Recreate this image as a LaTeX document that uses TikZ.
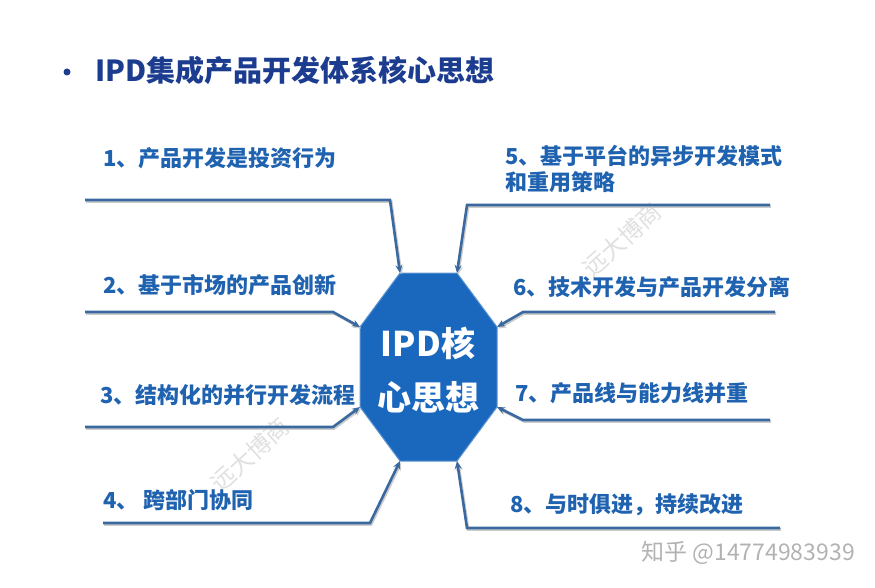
\documentclass[tikz,border=0pt]{standalone}
\usepackage{fontspec}
\setmainfont{Noto Sans CJK SC}
\usepackage{xcolor}
\usetikzlibrary{arrows.meta}

\definecolor{titleblue}{HTML}{1B3C8F}
\definecolor{itemblue}{HTML}{1F62B0}
\definecolor{coreblue}{HTML}{1A68BE}
\definecolor{linkblue}{HTML}{3A69A0}

\tikzset{
  item/.style={anchor=west, text=itemblue, font=\bfseries\fontsize{22}{26}\selectfont, inner sep=0pt},
  link/.style={draw=linkblue, line width=2.6pt, -{Stealth[length=8pt,width=7pt]},
    preaction={draw=black!20, line width=2.6pt, transform canvas={shift={(1.2pt,-1.5pt)}}}},
  mark wm/.style={text=black!12, font=\fontsize{24}{26}\selectfont, inner sep=0pt}
}

\begin{document}
\begin{tikzpicture}[x=1pt, y=-1pt]
    \useasboundingbox (0,0) rectangle (875,588);

    % Watermarks
    \node[mark wm, rotate=42] (wmtop) at (622,240) {远大博商};
    \node[mark wm, rotate=42] (wmbot) at (250,455) {远大博商};

    % Title
    \node[circle, fill=titleblue, minimum size=7pt, inner sep=0pt] (dot) at (67,72) {};
    \node[anchor=west, text=titleblue, inner sep=0pt, font=\bfseries\fontsize{29}{32}\selectfont] (title) at (95,70) {IPD集成产品开发体系核心思想};

    % Octagon corners
    \coordinate (o1) at (400,273);
    \coordinate (o2) at (457,273);
    \coordinate (o3) at (497,327);
    \coordinate (o4) at (497,407);
    \coordinate (o5) at (457,461);
    \coordinate (o6) at (400,461);
    \coordinate (o7) at (360,407);
    \coordinate (o8) at (360,327);
    \filldraw[fill=coreblue, draw=coreblue!70!white, line width=1pt] (o1) -- (o2) -- (o3) -- (o4) -- (o5) -- (o6) -- (o7) -- (o8) -- cycle;
    \node[text=white, align=center, font=\bfseries\fontsize{34}{54}\selectfont] (core) at (428,370) {IPD核\\心思想};

    % Items
    \node[item] (i1) at (103,158) {1、产品开发是投资行为};
    \node[item] (i2) at (103,285) {2、基于市场的产品创新};
    \node[item] (i3) at (100,395) {3、结构化的并行开发流程};
    \node[item] (i4) at (103,500) {4、\ 跨部门协同};
    \node[item, align=left] (i5) at (505,169) {5、基于平台的异步开发模式\\和重用策略};
    \node[item] (i6) at (513,287) {6、技术开发与产品开发分离};
    \node[item] (i7) at (515,393) {7、产品线与能力线并重};
    \node[item] (i8) at (510,505) {8、与时俱进，持续改进};

    % Line corners
    \coordinate (a1) at (85,200);  \coordinate (b1) at (390,200);
    \coordinate (a2) at (85,312);  \coordinate (b2) at (333,312);
    \coordinate (a3) at (85,427);  \coordinate (b3) at (333,427);
    \coordinate (a4) at (103,523); \coordinate (b4) at (370,523);
    \coordinate (a5) at (770,205); \coordinate (b5) at (467,205);
    \coordinate (a6) at (775,312); \coordinate (b6) at (523,312);
    \coordinate (a7) at (770,420); \coordinate (b7) at (523,420);
    \coordinate (a8) at (780,528); \coordinate (b8) at (467,528);

    % Connectors
    \draw[link] (a1) -- (b1) -- (o1);
    \draw[link] (a2) -- (b2) -- (o8);
    \draw[link] (a3) -- (b3) -- (o7);
    \draw[link] (a4) -- (b4) -- (o6);
    \draw[link] (a5) -- (b5) -- (o2);
    \draw[link] (a6) -- (b6) -- (o3);
    \draw[link] (a7) -- (b7) -- (o4);
    \draw[link] (a8) -- (b8) -- (o5);

    % Credit
    \node[anchor=east, text=black!30, inner sep=0pt, font=\fontsize{23}{26}\selectfont] (credit) at (855,553) {知乎 @14774983939};

\end{tikzpicture}
\end{document}
